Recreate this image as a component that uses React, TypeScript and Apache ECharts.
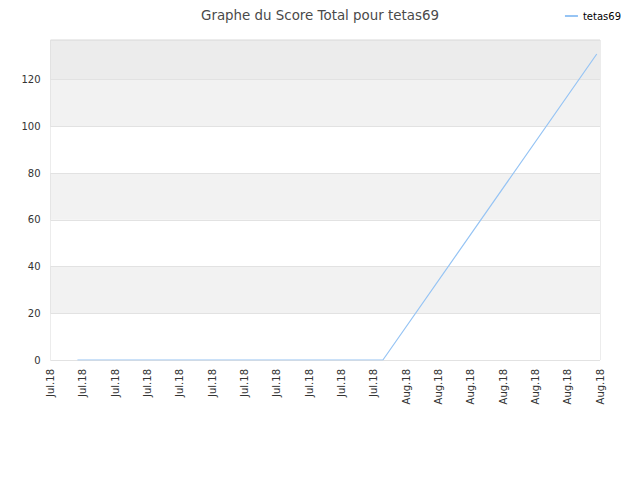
import React, { useEffect, useRef } from "react";
import * as echarts from "echarts";

// Days since 2018-07-01 (x-axis label every 3 days)
const axisStartDay = 0;
const axisEndDay = 51;
const labelStepDays = 3;
const monthNames = ["Jan", "Feb", "Mar", "Apr", "May", "Jun", "Jul", "Aug", "Sep", "Oct", "Nov", "Dec"];

const seriesName = "tetas69";
const pointDays = [2.5, 30.85, 50.7];
const pointScores = [0, 0, 131];

const yMax = 137;
const yInterval = 20;

function dayLabel(d: number): string {
  const base = new Date(Date.UTC(2018, 6, 1));
  const dt = new Date(base.getTime() + Math.round(d) * 86400000);
  return monthNames[dt.getUTCMonth()] + "." + String(dt.getUTCFullYear()).slice(2);
}

export default function App() {
  const ref = useRef<HTMLDivElement>(null);
  useEffect(() => {
    if (!ref.current) return;
    const chart = echarts.init(ref.current, undefined, { renderer: "svg" });
    const font = "DejaVu Sans";
    chart.setOption({
      animation: false,
      backgroundColor: "#ffffff",
      title: {
        text: "Graphe du Score Total pour tetas69",
        left: "center",
        top: 4,
        textStyle: { fontFamily: font, fontSize: 13.4, fontWeight: "normal", color: "#4a4a4a" },
      },
      legend: {
        right: 14,
        top: 6,
        icon: "rect",
        itemWidth: 13,
        itemHeight: 2,
        itemGap: 4,
        textStyle: { fontFamily: font, fontSize: 10, color: "#000000" },
        data: [seriesName],
      },
      grid: {
        left: 50.5,
        right: 40,
        top: 40,
        bottom: 120,
        show: true,
        borderColor: "#d9d9d9",
        borderWidth: 1,
        backgroundColor: "transparent",
      },
      xAxis: {
        type: "value",
        min: axisStartDay,
        max: axisEndDay,
        interval: labelStepDays,
        axisLine: { show: false },
        axisTick: { show: false },
        splitLine: { show: false },
        axisLabel: {
          rotate: 90,
          margin: 9,
          fontFamily: font,
          fontSize: 10,
          color: "#333333",
          formatter: (v: number) => dayLabel(v),
        },
      },
      yAxis: {
        type: "value",
        min: 0,
        max: yMax,
        interval: yInterval,
        axisLine: { show: false },
        axisTick: { show: false },
        axisLabel: {
          showMaxLabel: false,
          margin: 10,
          fontFamily: font,
          fontSize: 10,
          color: "#333333",
        },
        splitLine: { show: true, lineStyle: { color: "#e2e2e2", width: 1 } },
        splitArea: {
          show: true,
          areaStyle: {
            color: ["#ffffff", "#f2f2f2", "#ffffff", "#f2f2f2", "#ffffff", "#f2f2f2", "#ececec"],
          },
        },
      },
      series: [
        {
          name: seriesName,
          type: "line",
          data: pointDays.map((d, i) => [d, pointScores[i]]),
          showSymbol: false,
          symbol: "none",
          lineStyle: { color: "#96c4f4", width: 1.2 },
          itemStyle: { color: "#96c4f4" },
        },
      ],
    });
    return () => chart.dispose();
  }, []);
  return (
    <div
      ref={ref}
      style={{ position: "absolute", left: 0, top: 0, width: 640, height: 480 }}
    />
  );
}
